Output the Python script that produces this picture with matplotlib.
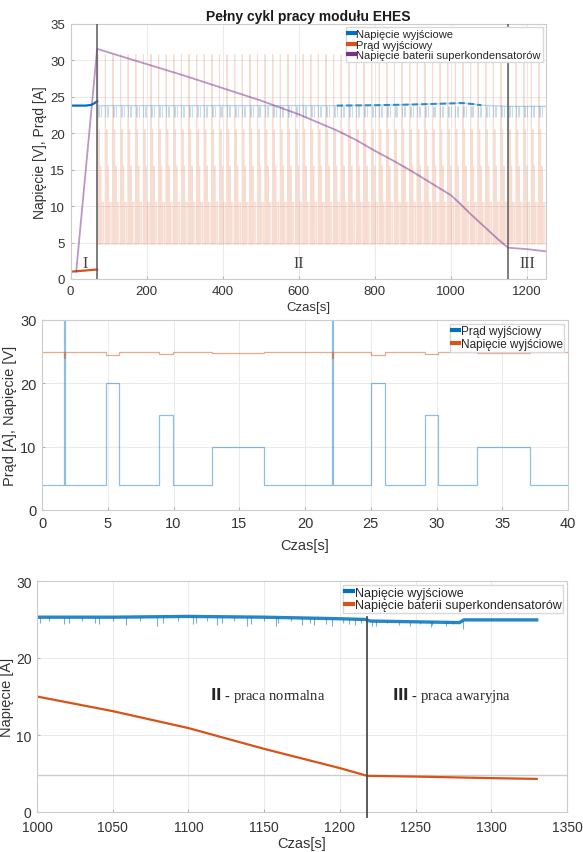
import numpy as np
import matplotlib
matplotlib.use("Agg")
import matplotlib.pyplot as plt

plt.rcParams['font.family'] = ['Liberation Sans', 'DejaVu Sans']

BLUE = '#0072BD'
ORANGE = '#D95319'
PURPLE = '#7E2F8E'

# ---------------- panel 1: full cycle ----------------
p1_purple_t = [15, 70, 100, 200, 300, 400, 500, 600, 700, 750, 800, 850, 900, 950, 1000,
               1025, 1050, 1075, 1100, 1125, 1150, 1200, 1250]
p1_purple_v = [1.0, 31.6, 31.1, 29.5, 27.9, 26.2, 24.5, 22.6, 20.4, 19.1, 17.6, 16.2, 14.7, 13.1, 11.5,
               10.3, 9.0, 7.8, 6.6, 5.4, 4.3, 4.1, 3.8]

p1_blue_I_t = [0, 40, 55, 65, 70]
p1_blue_I_v = [23.8, 23.8, 23.9, 24.2, 24.4]
p1_orange_I_t = [0, 70]
p1_orange_I_v = [1.0, 1.3]

p1_blue_t = [70, 300, 600, 700, 800, 900, 1000, 1030, 1060, 1080, 1150, 1250]
p1_blue_v = [23.8, 23.8, 23.8, 23.8, 23.85, 23.95, 24.1, 24.15, 24.0, 23.85, 23.7, 23.7]
p1_blue_dip = 22.3

# one load cycle (20 s), segment start/end offsets and current levels
cyc_start = [0.0, 1.7, 1.8, 4.9, 5.9, 8.9, 9.9, 12.9, 16.9]
cyc_end = [1.7, 1.8, 4.9, 5.9, 8.9, 9.9, 12.9, 16.9, 20.0]
p1_cyc_level = [4.8, 30.8, 4.8, 20.5, 4.8, 15.5, 4.8, 10.5, 4.8]
p1_cycles = np.arange(70, 1250, 20)
p1_dip_offsets = [1.75, 5.4, 9.4]

phase_lines = [70, 1150]

# ---------------- panel 2: 40 s detail ----------------
p2_seg_t = [0, 1.65, 1.75, 4.85, 5.85, 8.9, 9.95, 12.9, 16.85, 22.05, 22.15, 25.05, 26.1, 29.1, 30.1, 33.1, 37.1, 40]
p2_current = [4.0, 30.0, 4.0, 20.0, 4.0, 15.0, 4.0, 10.0, 4.0, 30.0, 4.0, 20.0, 4.0, 15.0, 4.0, 10.0, 4.0]
p2_voltage = [25.0, 24.0, 25.0, 24.4, 25.0, 24.6, 25.0, 24.8, 25.0, 24.0, 25.0, 24.4, 25.0, 24.6, 25.0, 24.8, 25.0]

# ---------------- panel 3: end of cycle ----------------
p3_blue_t = [1000, 1050, 1100, 1150, 1200, 1217, 1220, 1250, 1279, 1282, 1330]
p3_blue_v = [25.3, 25.3, 25.4, 25.3, 25.1, 25.0, 24.8, 24.7, 24.6, 24.95, 24.95]
p3_dip_t = [1002, 1008, 1018, 1021, 1030, 1038, 1041, 1050, 1059, 1068, 1079, 1083, 1093, 1103, 1105,
            1112, 1119, 1122, 1130, 1139, 1141, 1150, 1158, 1159, 1168, 1175, 1180, 1183, 1191, 1195,
            1202, 1206, 1210, 1214, 1221, 1224, 1231, 1239, 1246, 1253, 1260, 1261, 1270, 1275, 1281]
p3_dip_v = [24.5, 24.8, 24.4, 24.6, 24.8, 24.5, 24.4, 24.8, 24.3, 24.8, 24.2, 24.5, 24.8, 24.4, 24.5,
            24.8, 24.3, 24.5, 24.8, 24.2, 24.4, 24.8, 24.2, 24.5, 24.8, 24.3, 24.5, 24.3, 24.4, 24.2,
            24.5, 24.4, 24.3, 24.5, 24.1, 24.2, 24.5, 24.3, 24.2, 24.4, 24.0, 24.3, 24.2, 24.4, 23.8]
p3_orange_t = [1000, 1050, 1100, 1150, 1200, 1218, 1250, 1300, 1330]
p3_orange_v = [15.0, 13.1, 10.9, 8.2, 5.7, 4.7, 4.6, 4.4, 4.3]
p3_level = 4.75
p3_phase = 1218


def style(ax, fs):
    ax.grid(True, color='0.9', lw=0.6)
    ax.set_axisbelow(True)
    for s in ax.spines.values():
        s.set_color('0.8')
        s.set_linewidth(0.8)
    ax.tick_params(direction='in', length=2.5, color='0.7', labelsize=fs, labelcolor='0.2', pad=4)


def legend(ax, handles, labels, fs, loc):
    lg = ax.legend(handles, labels, loc=loc, fontsize=fs, handlelength=0.6, handletextpad=0.15,
                   borderpad=0.15, labelspacing=0.05, borderaxespad=0.3, fancybox=False,
                   framealpha=1, edgecolor='0.85')
    lg.set_zorder(10)
    for t in lg.get_texts():
        t.set_color('0.15')
    return lg


fig = plt.figure(figsize=(5.83, 8.53), dpi=100)
W, H = 583, 853


def box(l, r, t, b):
    return [l / W, 1 - b / H, (r - l) / W, (b - t) / H]


# ---- panel 1 ----
ax1 = fig.add_axes(box(70.5, 546, 25, 280))
t_cur, i_cur = [], []
for c in p1_cycles:
    for s, e, lv in zip(cyc_start, cyc_end, p1_cyc_level):
        t_cur += [c + s, c + e]
        i_cur += [lv, lv]
ax1.plot(t_cur, i_cur, color=ORANGE, lw=0.8, alpha=0.2)
dips = np.add.outer(p1_cycles, p1_dip_offsets).ravel()
ax1.vlines(dips, p1_blue_dip, 23.7, color=BLUE, lw=0.8, alpha=0.22)
ax1.plot(p1_blue_t, p1_blue_v, color=BLUE, lw=1.0, alpha=0.28)
bt = np.array(p1_blue_t)
m = (bt >= 700) & (bt <= 1080)
ax1.plot(bt[m], np.array(p1_blue_v)[m], color=BLUE, lw=1.5, ls=(0, (3, 1.5)), alpha=0.75)
ax1.plot(p1_blue_I_t, p1_blue_I_v, color=BLUE, lw=1.6)
ax1.plot(p1_orange_I_t, p1_orange_I_v, color=ORANGE, lw=1.6)
ax1.plot(p1_purple_t, p1_purple_v, color=PURPLE, lw=1.3, alpha=0.5)
for x in phase_lines:
    ax1.axvline(x, color='0.35', lw=1.1, zorder=5)
ax1.set_xlim(0, 1250)
ax1.set_ylim(0, 35)
ax1.set_xticks(range(0, 1201, 200))
ax1.set_yticks(range(0, 36, 5))
style(ax1, 9.5)
ax1.set_title('Pełny cykl pracy modułu EHES', fontsize=10, fontweight='bold', color='0.1', pad=3)
ax1.set_xlabel('Czas[s]', fontsize=9.5, color='0.2', labelpad=3)
ax1.set_ylabel('Napięcie [V], Prąd [A]', fontsize=10, color='0.2', labelpad=2)
for x, s in [(38, 'I'), (600, 'II'), (1200, 'III')]:
    ax1.text(x, 2.2, s, fontsize=11.5, family='Liberation Serif', ha='center', va='center', color='0.25')
h = [plt.Line2D([], [], color=c, lw=3) for c in (BLUE, ORANGE, PURPLE)]
legend(ax1, h, ['Napięcie wyjściowe', 'Prąd wyjściowy', 'Napięcie baterii superkondensatorów'], 8, 'upper right')

# ---- panel 2 ----
ax2 = fig.add_axes(box(42, 568, 321, 511))
ax2.stairs(p2_current, p2_seg_t, color=BLUE, lw=0.9, alpha=0.45, baseline=None)
ax2.stairs(p2_voltage, p2_seg_t, color=ORANGE, lw=0.9, alpha=0.5, baseline=None)
ax2.set_xlim(0, 40)
ax2.set_ylim(0, 30)
ax2.set_xticks(range(0, 41, 5))
ax2.set_yticks(range(0, 31, 10))
style(ax2, 10.5)
ax2.set_xlabel('Czas[s]', fontsize=10.5, color='0.2', labelpad=6)
ax2.set_ylabel('Prąd [A], Napięcie [V]', fontsize=10.5, color='0.2', labelpad=2)
h = [plt.Line2D([], [], color=c, lw=3) for c in (BLUE, ORANGE)]
legend(ax2, h, ['Prąd wyjściowy', 'Napięcie wyjściowe'], 8.5, 'upper right')

# ---- panel 3 ----
ax3 = fig.add_axes(box(37, 567, 582, 813))
ax3.axhline(p3_level, color='0.8', lw=1.0)
ax3.plot(p3_blue_t, p3_blue_v, color=BLUE, lw=2.4, alpha=0.85)
ax3.vlines(p3_dip_t, p3_dip_v, np.interp(p3_dip_t, p3_blue_t, p3_blue_v), color=BLUE, lw=0.8, alpha=0.55)
ax3.plot(p3_orange_t, p3_orange_v, color=ORANGE, lw=1.6)
ax3.plot([p3_phase, p3_phase], [-0.7, 25.3], color='0.3', lw=1.3, clip_on=False, zorder=5)
ax3.set_xlim(1000, 1350)
ax3.set_ylim(0, 30)
ax3.set_xticks(range(1000, 1351, 50))
ax3.set_yticks(range(0, 31, 10))
style(ax3, 10)
ax3.tick_params(axis='x', pad=6)
ax3.set_xlabel('Czas[s]', fontsize=10.5, color='0.2', labelpad=1)
ax3.set_ylabel('Napięcie [A]', fontsize=10.5, color='0.2', labelpad=1)
ax3.text(1152, 15.3, r'$\mathbf{II}$ - praca normalna', fontsize=10.5, family='Liberation Serif',
         ha='center', va='center', color='0.15')
ax3.text(1274, 15.3, r'$\mathbf{III}$ - praca awaryjna', fontsize=10.5, family='Liberation Serif',
         ha='center', va='center', color='0.15')
h = [plt.Line2D([], [], color=c, lw=3) for c in (BLUE, ORANGE)]
legend(ax3, h, ['Napięcie wyjściowe', 'Napięcie baterii superkondensatorów'], 9, 'upper right')

fig.savefig('out.png', dpi=100)
